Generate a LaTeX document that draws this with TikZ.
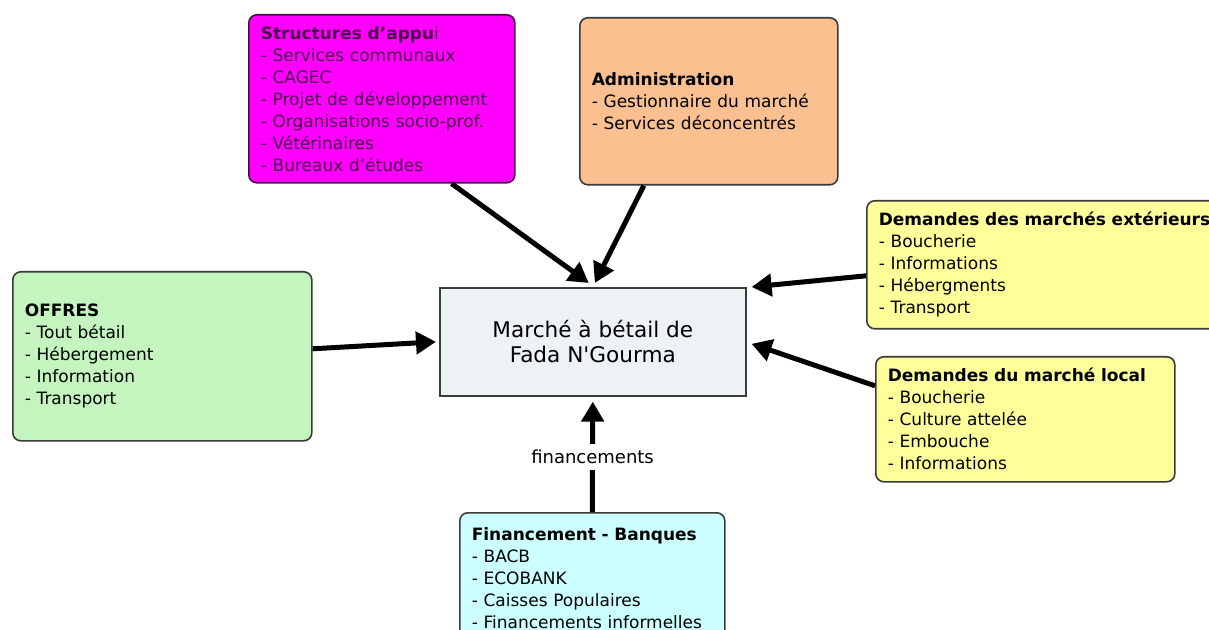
\documentclass[tikz,border=0pt]{standalone}
\usepackage{fontspec}
\setmainfont{DejaVu Sans}
\usepackage{tikz}
\usetikzlibrary{arrows.meta,positioning}
\definecolor{supfill}{HTML}{FF00FF}
\definecolor{supline}{HTML}{4A0A4A}
\definecolor{suptext}{HTML}{4B004B}
\definecolor{admfill}{HTML}{FAC090}
\definecolor{offfill}{HTML}{C4F5BE}
\definecolor{demfill}{HTML}{FFFF99}
\definecolor{finfill}{HTML}{CCFFFF}
\definecolor{mktfill}{HTML}{EDF2F5}
\definecolor{boxline}{HTML}{3A3A3A}
\tikzset{
    %Define style for the rounded boxes
    actor/.style={
           rectangle,
           rounded corners=4pt,
           draw=boxline, line width=0.8pt,
           anchor=north west,
           inner xsep=6pt,
           align=left,
           font=\fontsize{8.5}{11}\selectfont,
           text=black
           },
    %Define style for the central box
    market/.style={
           rectangle,
           draw=boxline, line width=0.8pt,
           anchor=north west,
           fill=mktfill,
           minimum width=153pt,
           minimum height=54pt,
           align=center,
           font=\fontsize{10.8}{12.5}\selectfont
           },
    % Define arrow style
    pil/.style={
           -{Triangle[length=10pt,width=11pt]},
           line width=2.5pt,
           black}
}
\begin{document}
\begin{tikzpicture}[x=0.5pt,y=-0.5pt]
\useasboundingbox (0,0) rectangle (1209,630);
\node[market](mkt) at (439,287) {Marché à bétail de\\Fada N\textquotesingle Gourma};
\node[actor, fill=supfill, draw=supline, text=suptext, text width=121pt, minimum height=84pt](sup) at (248,14)
    {\textbf{Structures d’appu}i\\- Services communaux\\- CAGEC\\- Projet de développement\\- Organisations socio-prof.\\- Vétérinaires\\- Bureaux d’études};
\node[actor, fill=admfill, text width=117pt, minimum height=83.5pt](adm) at (579,17)
    {\textbf{Administration}\\- Gestionnaire du marché\\- Services déconcentrés};
\node[actor, fill=demfill, text width=175pt, minimum height=64pt](ext) at (866,200)
    {\textbf{Demandes des marchés extérieurs}\\- Boucherie\\- Informations\\- Hébergments\\- Transport};
\node[actor, fill=demfill, text width=137.5pt, minimum height=62.5pt](loc) at (875,356)
    {\textbf{Demandes du marché local}\\- Boucherie\\- Culture attelée\\- Embouche\\- Informations};
\node[actor, fill=offfill, text width=137.5pt, minimum height=84.5pt](off) at (12,271)
    {\textbf{OFFRES}\\- Tout bétail\\- Hébergement\\- Information\\- Transport};
\node[actor, fill=finfill, text width=120.5pt, minimum height=65pt](fin) at (459,512)
    {\textbf{Financement - Banques}\\- BACB\\- ECOBANK\\- Caisses Populaires\\- Financements informelles};

\draw[pil] ([xshift=-32pt]sup.south east) -- ([xshift=-2pt,yshift=2pt]mkt.north);
\draw[pil] ([xshift=-32.5pt]adm.south) -- ([xshift=1pt,yshift=2pt]mkt.north);
\draw[pil] ([yshift=-5.5pt]ext.west) -- ([xshift=2.5pt]mkt.north east);
\draw[pil] ([yshift=16.75pt]loc.west) -- ([xshift=2.5pt,yshift=-1pt]mkt.east);
\draw[pil] ([yshift=3.75pt]off.east) -- ([xshift=-1.5pt]mkt.west);
\draw[pil] (fin.north) -- node[fill=white, font=\fontsize{9}{10}\selectfont, inner sep=3pt]{financements} ([yshift=-2.5pt]mkt.south);
\end{tikzpicture}
\end{document}
